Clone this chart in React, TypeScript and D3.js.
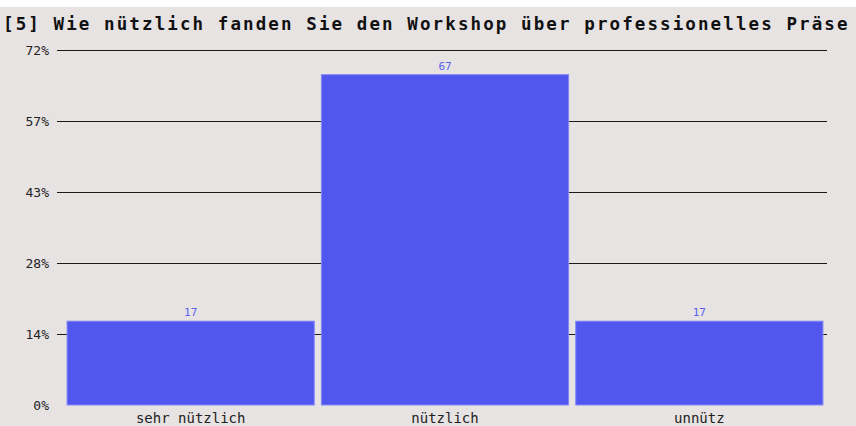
import React from "react";
import * as d3 from "d3";

const title = "[5] Wie nützlich fanden Sie den Workshop über professionelles Präse";
const categories = ["sehr nützlich", "nützlich", "unnütz"];
const values = [17, 67, 17];
const yMax = 72;
const yTicks = [0, 14.4, 28.8, 43.2, 57.6, 72];

const W = 856;
const H = 426;

export default function App() {
  const x = d3.scaleBand<string>().domain(categories).range([63.5, 826.5]).paddingInner(0.028).paddingOuter(0.014);
  const y = d3.scaleLinear().domain([0, yMax]).range([405, 50]);
  const mono = "'DejaVu Sans Mono', monospace";
  return (
    <>
      <style>{"body{margin:0}"}</style>
      <svg width={W} height={H} style={{ display: "block" }}>
        <rect x={0} y={0} width={W} height={H} fill="#ffffff" />
        <rect x={0} y={7} width={W} height={H - 7} fill="#e7e3e3" />
        <text x={3} y={30} fontFamily={mono} fontWeight="bold" fontSize={17.5} letterSpacing={2.1} fill="#111">
          {title}
        </text>
        {yTicks.map((t) => (
          <g key={t}>
            {t > 0 && (
              <line x1={57} x2={827} y1={Math.round(y(t)) + 0.5} y2={Math.round(y(t)) + 0.5} stroke="#1a1a1a" strokeWidth={1.2} />
            )}
            <text x={49} y={y(t) + 4.5} textAnchor="end" fontFamily={mono} fontSize={13} fill="#222">
              {Math.floor(t) + "%"}
            </text>
          </g>
        ))}
        {categories.map((c, i) => (
          <g key={c}>
            <rect
              x={x(c)!}
              y={y(values[i])}
              width={x.bandwidth()}
              height={y(0) - y(values[i])}
              fill="#5056ee"
              stroke="#8489f4"
              strokeWidth={1}
            />
            <text
              x={x(c)! + x.bandwidth() / 2}
              y={y(values[i]) - 5}
              textAnchor="middle"
              fontFamily={mono}
              fontSize={11}
              fill="#5a5ff0"
            >
              {values[i]}
            </text>
            <text
              x={x(c)! + x.bandwidth() / 2}
              y={423}
              textAnchor="middle"
              fontFamily={mono}
              fontSize={14}
              fill="#222"
            >
              {c}
            </text>
          </g>
        ))}
      </svg>
    </>
  );
}
